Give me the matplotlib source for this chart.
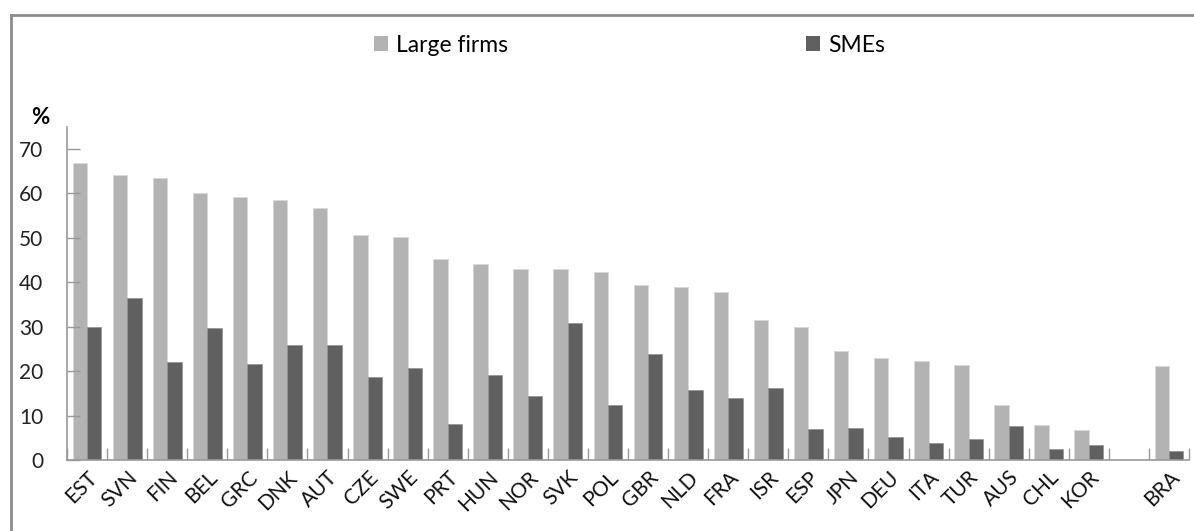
import numpy as np
import matplotlib
matplotlib.use("Agg")
import matplotlib.pyplot as plt
from matplotlib.patches import Patch
from matplotlib.lines import Line2D

countries = ["EST", "SVN", "FIN", "BEL", "GRC", "DNK", "AUT", "CZE", "SWE", "PRT",
             "HUN", "NOR", "SVK", "POL", "GBR", "NLD", "FRA", "ISR", "ESP", "JPN",
             "DEU", "ITA", "TUR", "AUS", "CHL", "KOR", "BRA"]
large_firms = [66.9, 64.2, 63.4, 60.0, 59.1, 58.5, 56.8, 50.7, 50.2, 45.3,
               44.2, 43.0, 43.0, 42.4, 39.3, 38.9, 37.8, 31.5, 30.0, 24.6,
               22.9, 22.3, 21.4, 12.4, 7.9, 6.7, 21.1]
smes = [30.0, 36.4, 22.2, 29.7, 21.6, 26.0, 26.0, 18.8, 20.8, 8.2,
        19.1, 14.5, 30.9, 12.4, 24.0, 15.9, 13.9, 16.2, 7.0, 7.3,
        5.2, 3.8, 4.9, 7.6, 2.6, 3.5, 2.1]
yticks = [0, 10, 20, 30, 40, 50, 60, 70]

plt.rcParams['font.family'] = ['Lato', 'DejaVu Sans']

W, H = 1194, 531
fig = plt.figure(figsize=(W / 100, H / 100), dpi=100)
ax = fig.add_axes([67 / W, 1 - 460.3 / H, (1189 - 67) / W, (460.3 - 126.7) / H])

x = np.arange(len(countries), dtype=float)
x[-1] += 1  # blank slot before BRA
bw = 0.36
c_large = "#b3b3b3"
c_sme = "#606060"
ax.bar(x - bw / 2, large_firms, width=bw, color=c_large, edgecolor="#d8d8d8", linewidth=0.6)
ax.bar(x + bw / 2, smes, width=bw, color=c_sme, edgecolor="#8a8a8a", linewidth=0.4)

ax.set_xlim(-0.5, len(countries) + 0.5)
ax.set_ylim(0, 75)
ax.set_yticks(yticks)
ax.set_yticklabels([str(v) for v in yticks], fontsize=15, color="#222222")
ax.tick_params(axis='y', direction='in', length=9, color="#999999", width=1, pad=17)

ax.set_xticks(x)
ax.set_xticklabels(countries, rotation=45, ha='right', va='top', rotation_mode='anchor',
                   fontsize=15, color="#111111")
ax.tick_params(axis='x', which='major', length=0, pad=5)
ax.set_xticks(np.arange(-0.5, len(countries) + 1), minor=True)
ax.tick_params(axis='x', which='minor', direction='in', length=9, color="#999999", width=1)

for s in ["top", "right"]:
    ax.spines[s].set_visible(False)
for s in ["left", "bottom"]:
    ax.spines[s].set_color("#999999")
    ax.spines[s].set_linewidth(1.2)

fig.text(40 / W, 1 - 117 / H, "%", fontsize=16, fontweight='bold', ha='center', va='center')

h1 = Patch(facecolor=c_large, edgecolor='none')
h2 = Patch(facecolor=c_sme, edgecolor='none')
fig.legend([h1], ["Large firms"], loc='center left', bbox_to_anchor=(374 / W, 1 - 45 / H),
           frameon=False, fontsize=16.5, handlelength=0.6, handleheight=0.6, handletextpad=0.35,
           borderpad=0, borderaxespad=0)
fig.legend([h2], ["SMEs"], loc='center left', bbox_to_anchor=(806 / W, 1 - 45 / H),
           frameon=False, fontsize=16.5, handlelength=0.6, handleheight=0.6, handletextpad=0.35,
           borderpad=0, borderaxespad=0)

fig.add_artist(Line2D([11 / W, 1.0], [1 - 15 / H, 1 - 15 / H], transform=fig.transFigure,
                      color="#8c8c8c", linewidth=2))
fig.add_artist(Line2D([11 / W, 11 / W], [1 - 15 / H, 0.0], transform=fig.transFigure,
                      color="#8c8c8c", linewidth=2))

fig.savefig("out.png", dpi=100)
